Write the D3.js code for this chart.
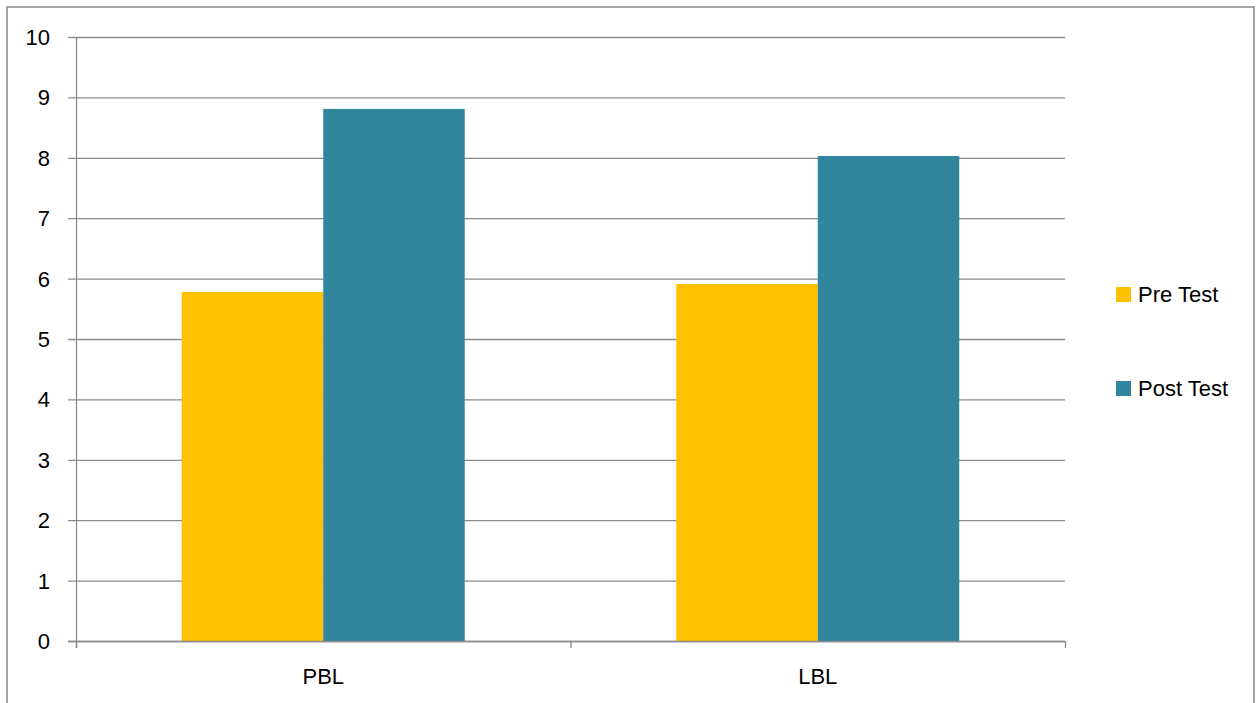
<!DOCTYPE html>
<html><head><meta charset="utf-8">
<script src="https://cdn.jsdelivr.net/npm/d3@7"></script>
<style>body{margin:0;background:#fff}svg{display:block}</style>
</head><body><svg id="c" width="1256" height="703"></svg>
<script>
const categories = ["PBL", "LBL"];
const seriesNames = ["Pre Test", "Post Test"];
const preTest = [5.78, 5.91];
const postTest = [8.81, 8.03];
const yTicks = [0,1,2,3,4,5,6,7,8,9,10];
const colors = ["#FFC000", "#31859C"];

const svg = d3.select("#c");
const font = "'Liberation Sans', Arial, sans-serif";
const m = {l:76, r:1065, t:37, b:641};

// outer border
svg.append("rect").attr("x",7).attr("y",7).attr("width",1247).attr("height",720)
  .attr("fill","none").attr("stroke","#878787").attr("stroke-width",1.5);

const x = d3.scaleBand().domain(categories).range([m.l, m.r]).paddingInner(0).paddingOuter(0);
const xs = d3.scaleBand().domain(seriesNames).range([0, x.bandwidth()]).paddingInner(0).paddingOuter(0.7475);
const y = d3.scaleLinear().domain([0,10]).range([m.b, m.t]);

// gridlines
svg.append("g").selectAll("line").data(yTicks).join("line")
  .attr("x1", m.l-8).attr("x2", m.r).attr("y1", d=>y(d)+0.5).attr("y2", d=>y(d)+0.5)
  .attr("stroke","#8c8c8c").attr("stroke-width",1.3);

// y-axis labels
svg.append("g").selectAll("text").data(yTicks).join("text")
  .attr("x", 50).attr("y", d=>y(d)).attr("dy","0.36em").attr("text-anchor","end")
  .attr("font-family",font).attr("font-size",22).attr("fill","#000").text(d=>d);

// bars
const data = categories.map((c,i)=>({c, vals:[preTest[i], postTest[i]]}));
const g = svg.append("g").selectAll("g").data(data).join("g")
  .attr("transform", d=>`translate(${x(d.c)},0)`);
g.selectAll("rect").data(d=>d.vals.map((v,j)=>({v, s:seriesNames[j], j})))
  .join("rect")
  .attr("x", d=>xs(d.s)).attr("width", xs.bandwidth())
  .attr("y", d=>y(d.v)).attr("height", d=>y(0)-y(d.v))
  .attr("fill", d=>colors[d.j]);

// axis lines
svg.append("line").attr("x1",m.l+0.5).attr("x2",m.l+0.5).attr("y1",m.t).attr("y2",m.b+7)
  .attr("stroke","#8c8c8c").attr("stroke-width",1.3);
svg.append("line").attr("x1",m.l-8).attr("x2",m.r).attr("y1",m.b+0.5).attr("y2",m.b+0.5)
  .attr("stroke","#8c8c8c").attr("stroke-width",1.3);
const xTickPos = categories.map(c=>x(c)).concat([m.r]);
svg.append("g").selectAll("line").data(xTickPos).join("line")
  .attr("x1",d=>d+0.5).attr("x2",d=>d+0.5).attr("y1",m.b).attr("y2",m.b+7)
  .attr("stroke","#8c8c8c").attr("stroke-width",1.3);

// x labels
svg.append("g").selectAll("text").data(categories).join("text")
  .attr("x", d=>x(d)+x.bandwidth()/2).attr("y", 684).attr("text-anchor","middle")
  .attr("font-family",font).attr("font-size",22).attr("fill","#000").text(d=>d);

// legend
const lg = svg.append("g").selectAll("g").data(seriesNames).join("g")
  .attr("transform",(d,i)=>`translate(1116,${287 + i*94})`);
lg.append("rect").attr("width",15).attr("height",15).attr("fill",(d,i)=>colors[i]);
lg.append("text").attr("x",22).attr("y",15).attr("font-family",font).attr("font-size",22)
  .attr("fill","#000").text(d=>d);
</script></body></html>
